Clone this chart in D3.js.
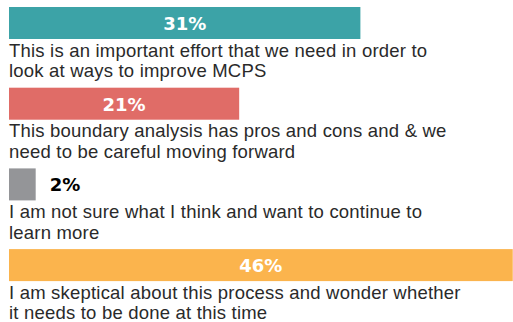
<!DOCTYPE html>
<html><head><meta charset="utf-8">
<script src="https://cdn.jsdelivr.net/npm/d3@7"></script>
<style>body{margin:0;background:#fff}svg{display:block}</style>
</head><body>
<script>
const categories = [
  "This is an important effort that we need in order to|look at ways to improve MCPS",
  "This boundary analysis has pros and cons and & we|need to be careful moving forward",
  "I am not sure what I think and want to continue to|learn more",
  "I am skeptical about this process and wonder whether|it needs to be done at this time"
];
const values = [31.6, 20.7, 2.4, 45.3];
const valueLabels = ["31%", "21%", "2%", "46%"];
const colors = ["#3ca3a7", "#e06c67", "#949598", "#fbb44d"];

const W = 513, H = 322;
const svg = d3.select("body").append("svg").attr("width", W).attr("height", H);
const x = d3.scaleLinear().domain([0, 100]).range([9, 9 + 1112]);
const y = d3.scaleBand().domain(categories).range([7, 7 + 4 * 80.7]).paddingInner(0).paddingOuter(0);
const barH = 32;

const g = svg.selectAll("g.row").data(categories).join("g").attr("class", "row");

g.append("rect")
  .attr("x", x(0))
  .attr("y", d => y(d))
  .attr("width", (d, i) => x(values[i]) - x(0))
  .attr("height", barH)
  .attr("fill", (d, i) => colors[i]);

g.append("text")
  .attr("x", (d, i) => {
    const w = x(values[i]) - x(0);
    return w > 60 ? x(0) + w / 2 : x(values[i]) + 14;
  })
  .attr("y", d => y(d) + 23)
  .attr("text-anchor", (d, i) => (x(values[i]) - x(0)) > 60 ? "middle" : "start")
  .attr("font-family", "DejaVu Sans")
  .attr("font-weight", "bold")
  .attr("font-size", 18)
  .attr("fill", (d, i) => (x(values[i]) - x(0)) > 60 ? "#fff" : "#000")
  .text((d, i) => valueLabels[i]);

g.each(function(d) {
  const t = d3.select(this).append("text")
    .attr("font-family", "Liberation Sans, Arial, sans-serif")
    .attr("font-size", 18.5)
    .attr("letter-spacing", 0.2)
    .attr("fill", "#2a2a2a");
  d.split("|").forEach((line, j) => {
    t.append("tspan").attr("x", 9).attr("y", y(d) + 49.5 + j * 20.6).text(line);
  });
});
</script>
</body></html>
